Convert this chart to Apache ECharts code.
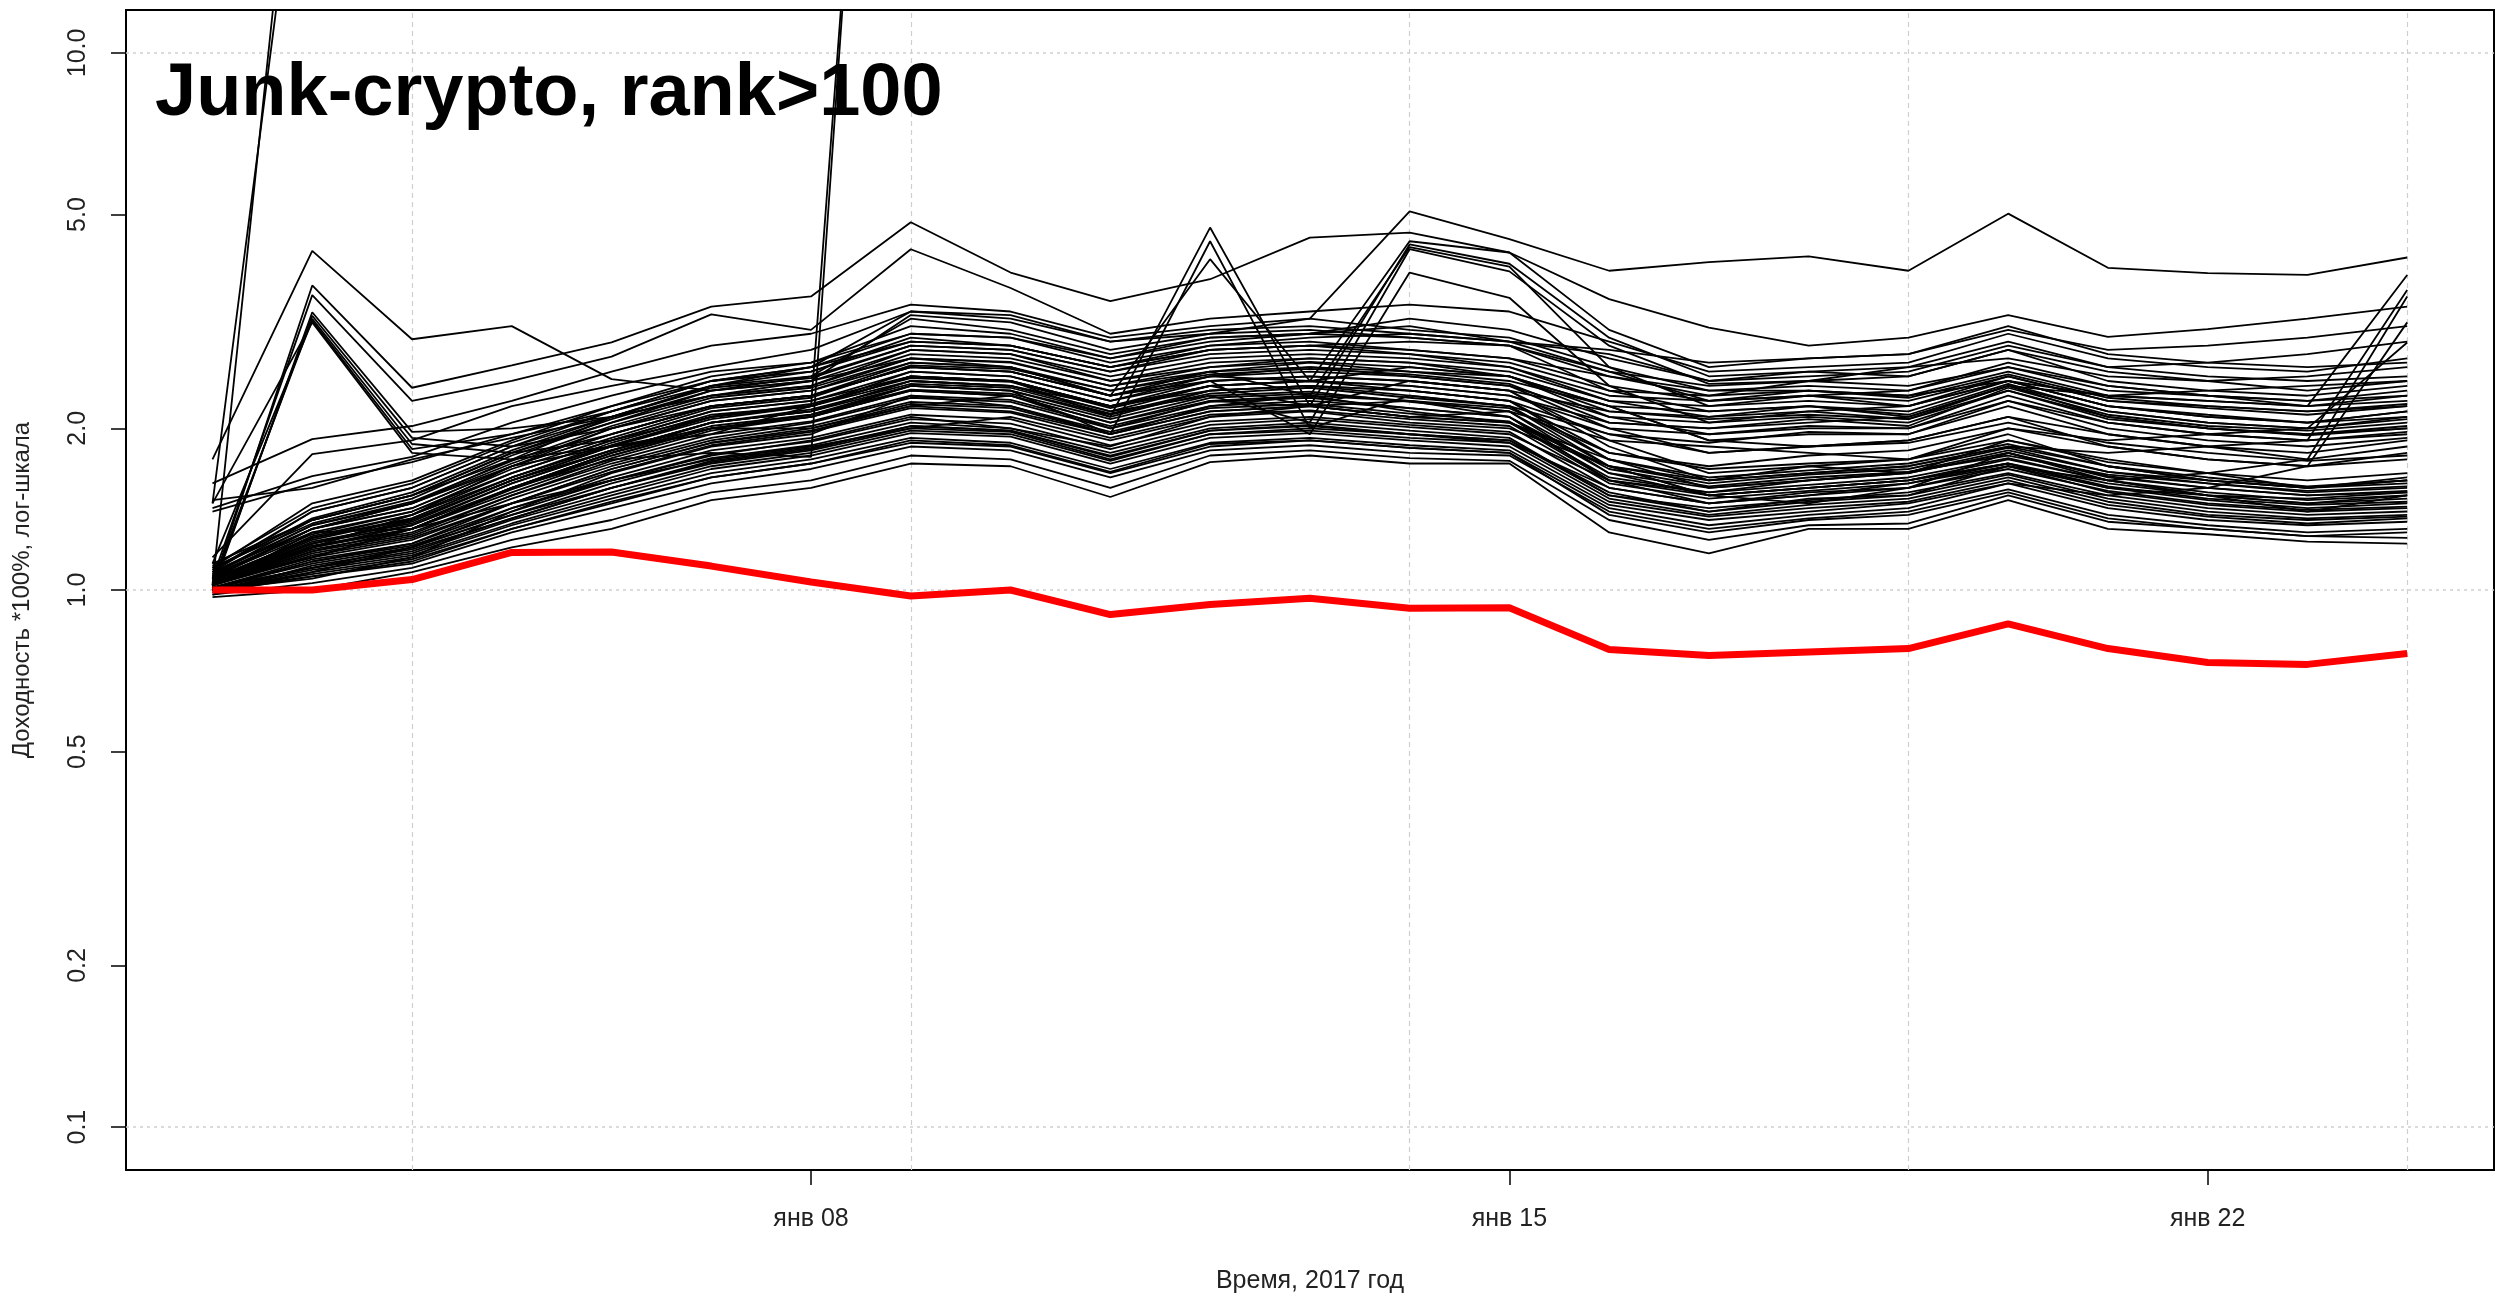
<!DOCTYPE html>
<html>
<head>
<meta charset="utf-8">
<title>Junk-crypto, rank>100</title>
<script src="https://cdn.jsdelivr.net/npm/echarts@6/dist/echarts.min.js"></script>
<style>
  html, body { margin: 0; padding: 0; background: #fff; }
  #chart { width: 2496px; height: 1297px; }
</style>
</head>
<body>
<div id="chart"></div>
<script>
// дни: 2 .. 24 января 2017
const days = ['02','03','04','05','06','07','08','09','10','11','12','13','14','15','16','17','18','19','20','21','22','23','24'];
const xTickIdx = [6, 13, 20];
const xTickLabels = ['янв 08', 'янв 15', 'янв 22'];
const yTicks = [0.1, 0.2, 0.5, 1, 2, 5, 10];
const yGrid = [0.1, 1, 10];
const xGridIdx = [2, 7, 12, 17, 22];

// индекс (красная линия)
const indexLine = [1.0, 1.0, 1.046, 1.175, 1.177, 1.108, 1.035, 0.975, 1.0, 0.90, 0.94, 0.965, 0.925, 0.927, 0.775, 0.755, 0.767, 0.778, 0.865, 0.778, 0.733, 0.727, 0.762];

// монеты, улетевшие за верх графика
const spikeLines = [
  [1.45, 40, 55, 60, 70, 75, 80, 95, 90, 85, 95, 100, 110, 105, 90, 85, 90, 88, 100, 92, 88, 85, 90],
  [1.02, 60, 70, 80, 85, 95, 100, 120, 115, 105, 110, 125, 130, 120, 105, 100, 105, 100, 115, 105, 100, 98, 102],
  [1.03, 1.15, 1.3, 1.55, 1.75, 1.8, 1.77, 800, 850, 760, 820, 900, 950, 880, 700, 650, 680, 690, 760, 700, 660, 640, 680],
  [1.06, 1.2, 1.38, 1.7, 1.85, 1.95, 2.2, 650, 700, 640, 690, 720, 760, 700, 600, 560, 580, 590, 640, 600, 570, 560, 580]
];

// заметные пики
const peakLines = [
  [1.75, 4.28, 2.93, 3.1, 2.47, 2.35, 2.45, 2.7, 2.6, 2.3, 2.5, 2.6, 2.5, 2.4, 2.0, 1.8, 1.85, 1.9, 2.1, 1.85, 1.75, 1.7, 1.8],
  [1.02, 3.69, 2.38, 2.62, 2.89, 3.37, 3.52, 4.84, 3.9, 3.45, 3.79, 4.53, 4.63, 4.25, 3.48, 3.08, 2.85, 2.95, 3.25, 2.96, 3.06, 3.2, 3.37],
  [1.05, 3.54, 2.25, 2.45, 2.72, 3.26, 3.05, 4.31, 3.65, 3.0, 3.2, 3.3, 3.4, 3.3, 2.9, 2.55, 2.6, 2.65, 3.0, 2.7, 2.6, 2.55, 2.7],
  [1.1, 1.35, 1.5, 1.75, 2.1, 2.4, 2.6, 3.3, 3.2, 2.9, 3.0, 3.2, 5.07, 4.5, 3.93, 4.08, 4.18, 3.93, 5.02, 3.98, 3.89, 3.86, 4.16],
  [1.04, 1.25, 1.35, 1.6, 1.85, 2.1, 2.2, 2.5, 2.45, 2.1, 4.73, 2.2, 2.45, 2.35, 1.85, 1.6, 1.65, 1.7, 1.85, 1.7, 1.6, 1.55, 1.6],
  [1.02, 1.2, 1.3, 1.55, 1.8, 2.05, 2.15, 2.4, 2.35, 1.95, 4.46, 2.0, 2.3, 2.2, 1.7, 1.5, 1.55, 1.6, 1.75, 1.6, 1.5, 1.45, 1.5],
  [1.06, 1.3, 1.42, 1.7, 2.0, 2.25, 2.35, 2.65, 2.6, 2.3, 4.13, 2.45, 2.6, 2.5, 2.1, 1.95, 2.0, 2.0, 2.25, 2.05, 1.95, 1.9, 1.95]
];

// пучок с пиком 3 января
const bundleLines = [
  [1.0, 3.29, 1.97, 2.0, 2.1, 2.3, 2.4, 2.8, 2.75, 2.45, 2.6, 2.7, 2.65, 2.5, 2.2, 1.9, 1.95, 1.95, 2.2, 1.95, 1.85, 1.8, 1.9],
  [1.01, 3.24, 1.92, 1.85, 2.0, 2.2, 2.3, 2.6, 2.55, 2.3, 2.45, 2.5, 2.45, 2.35, 1.9, 1.65, 1.7, 1.75, 1.95, 1.7, 1.6, 1.55, 1.6],
  [1.03, 3.2, 1.87, 1.8, 1.9, 2.1, 2.2, 2.45, 2.4, 2.2, 2.35, 2.4, 2.35, 2.25, 1.75, 1.55, 1.6, 1.65, 1.8, 1.62, 1.55, 1.5, 1.52],
  [1.12, 3.17, 1.83, 1.95, 2.15, 2.4, 2.5, 3.2, 3.05, 2.75, 2.95, 3.0, 2.95, 2.85, 2.35, 2.15, 2.2, 2.15, 2.45, 2.2, 2.1, 2.05, 2.1],
  [1.45, 3.15, 1.8, 1.75, 1.85, 2.0, 2.1, 2.35, 2.3, 2.05, 2.25, 2.3, 2.25, 2.15, 1.65, 1.5, 1.55, 1.6, 1.72, 1.58, 1.5, 1.45, 1.48]
];

// пучок с пиком 14 января
const midPeakLines = [
  [1.05, 1.3, 1.45, 1.7, 1.95, 2.2, 2.3, 2.6, 2.55, 2.3, 2.5, 2.45, 4.46, 4.25, 3.05, 2.6, 2.7, 2.75, 3.1, 2.75, 2.65, 2.6, 2.65],
  [1.07, 1.28, 1.4, 1.65, 1.9, 2.15, 2.25, 2.5, 2.45, 2.2, 2.4, 2.2, 4.4, 4.05, 2.95, 2.5, 2.55, 2.6, 2.9, 2.6, 2.5, 2.45, 2.5],
  [1.03, 1.22, 1.35, 1.6, 1.82, 2.05, 2.15, 2.45, 2.4, 2.15, 2.3, 2.05, 4.31, 3.92, 2.85, 2.42, 2.45, 2.5, 2.8, 2.45, 2.35, 2.3, 2.4],
  [1.08, 1.32, 1.45, 1.72, 2.0, 2.25, 2.35, 2.7, 2.65, 2.4, 2.55, 2.3, 4.35, 4.0, 2.6, 2.2, 2.3, 2.35, 2.65, 2.4, 2.3, 2.25, 2.35],
  [1.04, 1.26, 1.38, 1.62, 1.88, 2.12, 2.2, 2.55, 2.5, 2.25, 2.45, 1.95, 3.9, 3.5, 2.4, 2.05, 2.15, 2.2, 2.5, 2.25, 2.2, 2.15, 2.2]
];

// верхняя часть пучка
const upperLines = [
  [1.58, 1.91, 2.02, 2.25, 2.55, 2.85, 3.0, 3.4, 3.3, 2.95, 3.1, 3.2, 3.05, 2.95, 2.6, 2.35, 2.4, 2.35, 2.6, 2.35, 2.3, 2.2, 2.25],
  [1.42, 1.63, 1.77, 2.05, 2.3, 2.55, 2.65, 3.0, 2.95, 2.65, 2.85, 2.9, 2.8, 2.7, 2.4, 2.25, 2.3, 2.2, 2.45, 2.2, 2.1, 2.05, 2.15],
  [1.40, 1.58, 1.73, 1.95, 2.2, 2.45, 2.6, 2.9, 2.85, 2.6, 2.8, 2.85, 2.75, 2.6, 2.25, 2.1, 2.2, 2.1, 2.4, 2.15, 2.05, 2.0, 2.1],
  [1.47, 1.55, 1.75, 1.92, 2.1, 2.3, 2.45, 3.25, 3.15, 2.8, 3.0, 3.05, 2.95, 2.85, 2.5, 2.35, 2.35, 2.3, 2.45, 2.3, 2.35, 2.4, 2.45],
  [1.15, 1.79, 1.9, 2.2, 2.4, 2.6, 2.8, 3.3, 3.25, 2.9, 3.05, 3.1, 3.0, 2.9, 2.55, 2.4, 2.45, 2.4, 2.6, 2.4, 2.3, 2.25, 2.3],
  [1.1, 1.45, 1.6, 1.9, 2.2, 2.5, 2.65, 3.1, 3.0, 2.7, 2.95, 3.0, 3.1, 2.9, 2.75, 2.45, 2.55, 2.5, 2.8, 2.55, 2.45, 2.35, 2.45],
  [1.08, 1.4, 1.55, 1.85, 2.15, 2.45, 2.55, 2.95, 2.85, 2.6, 2.8, 2.85, 2.9, 2.85, 2.55, 2.25, 2.35, 2.3, 2.55, 2.3, 2.25, 2.2, 2.3],
  [1.05, 1.25, 1.38, 1.65, 1.9, 2.15, 2.25, 2.55, 2.5, 2.25, 2.5, 2.55, 2.5, 2.4, 2.1, 2.05, 2.1, 2.05, 2.35, 2.1, 2.0, 1.95, 2.0],
  [1.08, 1.3, 1.42, 1.7, 1.95, 2.2, 2.3, 2.6, 2.55, 2.3, 2.55, 2.6, 2.55, 2.45, 2.2, 2.15, 2.2, 2.12, 2.42, 2.15, 2.05, 2.0, 2.08],
  [1.03, 1.2, 1.32, 1.58, 1.82, 2.05, 2.15, 2.45, 2.4, 2.15, 2.4, 2.45, 2.4, 2.3, 2.0, 1.95, 2.02, 2.0, 2.3, 2.05, 1.95, 1.9, 1.97],
  [1.1, 1.33, 1.48, 1.78, 2.05, 2.3, 2.4, 2.75, 2.7, 2.45, 2.65, 2.7, 2.65, 2.55, 2.25, 2.2, 2.25, 2.2, 2.45, 2.2, 2.12, 2.05, 2.15],
  [1.02, 1.18, 1.3, 1.55, 1.78, 2.0, 2.1, 2.4, 2.35, 2.1, 2.35, 2.4, 2.35, 2.25, 1.95, 1.88, 1.97, 1.95, 2.25, 2.0, 1.9, 1.85, 1.92],
  [1.06, 1.27, 1.4, 1.68, 1.92, 2.18, 2.28, 2.62, 2.58, 2.35, 2.52, 2.58, 2.52, 2.42, 2.05, 2.0, 2.08, 2.02, 2.38, 2.12, 2.02, 1.98, 2.05],
  [1.04, 1.22, 1.34, 1.6, 1.85, 2.08, 2.2, 2.5, 2.45, 2.2, 2.45, 2.5, 2.45, 2.35, 2.15, 2.1, 2.15, 2.08, 2.4, 2.1, 2.0, 1.95, 2.02],
  [1.12, 1.35, 1.5, 1.8, 2.08, 2.35, 2.45, 2.8, 2.75, 2.5, 2.7, 2.75, 2.7, 2.6, 2.3, 2.25, 2.3, 2.25, 2.5, 2.25, 2.18, 2.12, 2.2],
  [1.07, 1.32, 1.46, 1.74, 2.02, 2.28, 2.38, 2.7, 2.66, 2.4, 2.6, 2.66, 2.6, 2.5, 2.15, 2.08, 2.12, 2.08, 2.35, 2.08, 2.0, 1.94, 2.0],
  [1.09, 1.36, 1.52, 1.82, 2.1, 2.38, 2.48, 2.85, 2.8, 2.55, 2.75, 2.8, 2.75, 2.65, 2.35, 2.3, 2.35, 2.28, 2.52, 2.28, 2.2, 2.15, 2.22],
  [1.06, 1.3, 1.45, 1.75, 1.95, 2.2, 2.3, 2.65, 2.6, 2.35, 2.55, 2.65, 2.55, 2.5, 2.2, 1.9, 1.85, 1.9, 2.1, 1.95, 1.85, 1.75, 1.85],
  [1.09, 1.4, 1.55, 1.85, 2.1, 2.4, 2.55, 2.9, 2.85, 2.6, 2.85, 2.95, 3.0, 2.9, 2.8, 2.65, 2.7, 2.75, 3.05, 2.8, 2.85, 2.95, 3.1],
  [1.11, 1.42, 1.58, 1.88, 2.15, 2.45, 2.6, 3.0, 2.95, 2.7, 2.9, 3.0, 3.2, 3.05, 2.7, 2.45, 2.5, 2.55, 2.85, 2.6, 2.65, 2.75, 2.9],
  [1.07, 1.35, 1.5, 1.8, 2.05, 2.35, 2.5, 2.85, 2.8, 2.55, 2.8, 2.85, 2.8, 2.7, 2.5, 2.3, 2.45, 2.6, 2.7, 2.5, 2.45, 2.5, 2.6]
];

// нижняя часть пучка
const lowerLines = [
  [0.97, 1.0, 1.08, 1.2, 1.3, 1.47, 1.55, 1.72, 1.7, 1.49, 1.73, 1.78, 1.72, 1.72, 1.28, 1.17, 1.3, 1.3, 1.47, 1.3, 1.27, 1.23, 1.22],
  [0.98, 1.03, 1.1, 1.24, 1.35, 1.52, 1.6, 1.78, 1.75, 1.55, 1.78, 1.82, 1.76, 1.74, 1.35, 1.24, 1.32, 1.33, 1.5, 1.34, 1.3, 1.26, 1.25],
  [0.99, 1.06, 1.12, 1.28, 1.42, 1.58, 1.68, 1.85, 1.82, 1.62, 1.82, 1.86, 1.8, 1.78, 1.4, 1.3, 1.36, 1.4, 1.54, 1.38, 1.32, 1.28, 1.3],
  [1.0, 1.08, 1.15, 1.32, 1.48, 1.65, 1.75, 1.92, 1.88, 1.68, 1.88, 1.92, 1.86, 1.82, 1.44, 1.35, 1.4, 1.45, 1.58, 1.42, 1.35, 1.32, 1.34],
  [1.0, 1.1, 1.17, 1.35, 1.52, 1.7, 1.8, 1.98, 1.95, 1.74, 1.95, 1.98, 1.92, 1.88, 1.48, 1.38, 1.44, 1.48, 1.62, 1.46, 1.38, 1.35, 1.37],
  [1.01, 1.12, 1.2, 1.38, 1.58, 1.76, 1.86, 2.05, 2.0, 1.8, 2.0, 2.05, 1.98, 1.92, 1.5, 1.42, 1.47, 1.52, 1.65, 1.5, 1.42, 1.38, 1.4],
  [1.01, 1.14, 1.22, 1.42, 1.62, 1.82, 1.92, 2.12, 2.08, 1.86, 2.06, 2.1, 2.03, 1.97, 1.55, 1.45, 1.5, 1.55, 1.68, 1.53, 1.45, 1.41, 1.43],
  [1.02, 1.15, 1.24, 1.45, 1.66, 1.86, 1.97, 2.18, 2.14, 1.92, 2.12, 2.16, 2.08, 2.02, 1.58, 1.48, 1.53, 1.58, 1.72, 1.56, 1.48, 1.44, 1.46],
  [1.02, 1.17, 1.26, 1.48, 1.7, 1.9, 2.02, 2.24, 2.2, 1.97, 2.18, 2.22, 2.13, 2.06, 1.62, 1.52, 1.57, 1.62, 1.76, 1.6, 1.52, 1.47, 1.5],
  [1.03, 1.19, 1.28, 1.5, 1.74, 1.95, 2.06, 2.3, 2.26, 2.02, 2.24, 2.28, 2.18, 2.1, 1.65, 1.55, 1.6, 1.65, 1.8, 1.63, 1.55, 1.5, 1.53],
  [1.03, 1.21, 1.3, 1.54, 1.78, 2.0, 2.12, 2.36, 2.32, 2.08, 2.3, 2.34, 2.24, 2.15, 1.7, 1.58, 1.64, 1.68, 1.84, 1.66, 1.58, 1.53, 1.56],
  [1.04, 1.23, 1.33, 1.58, 1.82, 2.05, 2.17, 2.42, 2.38, 2.13, 2.35, 2.4, 2.3, 2.2, 1.75, 1.62, 1.67, 1.72, 1.87, 1.7, 1.62, 1.56, 1.6],
  [1.0, 1.09, 1.16, 1.33, 1.5, 1.68, 1.78, 1.96, 1.93, 1.72, 1.92, 1.96, 1.9, 1.85, 1.46, 1.37, 1.42, 1.46, 1.6, 1.44, 1.37, 1.33, 1.36],
  [0.99, 1.11, 1.19, 1.36, 1.55, 1.73, 1.83, 2.02, 1.98, 1.77, 1.98, 2.02, 1.95, 1.9, 1.52, 1.4, 1.46, 1.5, 1.64, 1.48, 1.4, 1.36, 1.38],
  [1.01, 1.13, 1.21, 1.4, 1.6, 1.79, 1.89, 2.08, 2.04, 1.83, 2.03, 2.08, 2.01, 1.95, 1.6, 1.5, 1.55, 1.6, 1.72, 1.55, 1.47, 1.42, 1.45],
  [1.05, 1.25, 1.36, 1.62, 1.86, 2.1, 2.22, 2.48, 2.44, 2.18, 2.4, 2.45, 2.35, 2.25, 1.8, 1.68, 1.72, 1.75, 1.9, 1.73, 1.65, 1.6, 1.65],
  [1.0, 1.05, 1.15, 1.4, 1.65, 1.85, 1.95, 2.3, 2.2, 1.95, 2.2, 2.3, 2.15, 2.05, 1.75, 1.6, 1.7, 1.65, 1.9, 1.75, 1.65, 1.55, 1.62],
  [1.02, 1.28, 1.3, 1.45, 1.6, 1.75, 1.85, 2.0, 2.1, 1.9, 2.1, 2.2, 2.25, 2.1, 1.6, 1.45, 1.5, 1.58, 1.7, 1.55, 1.5, 1.48, 1.52],
  [1.04, 1.15, 1.3, 1.55, 1.8, 2.0, 2.0, 2.2, 2.3, 2.0, 2.25, 2.2, 2.1, 2.15, 1.9, 1.85, 1.8, 1.75, 2.0, 1.85, 1.75, 1.7, 1.75],
  [0.98, 1.08, 1.2, 1.42, 1.6, 1.78, 1.9, 2.1, 2.0, 1.85, 2.1, 2.15, 2.05, 2.0, 1.7, 1.5, 1.45, 1.55, 1.8, 1.6, 1.5, 1.4, 1.5],
  [1.0, 1.13, 1.22, 1.45, 1.68, 1.88, 2.0, 2.22, 2.18, 1.95, 2.15, 2.2, 2.1, 2.05, 1.6, 1.52, 1.6, 1.66, 1.78, 1.64, 1.58, 1.52, 1.55],
  [1.01, 1.1, 1.2, 1.38, 1.55, 1.72, 1.82, 2.0, 1.97, 1.75, 1.95, 2.0, 1.95, 1.88, 1.55, 1.45, 1.52, 1.55, 1.7, 1.52, 1.44, 1.4, 1.42],
  [1.05, 1.22, 1.32, 1.55, 1.8, 2.02, 2.12, 2.4, 2.35, 2.12, 2.32, 2.38, 2.28, 2.2, 1.95, 1.8, 1.85, 1.88, 2.05, 1.88, 1.8, 1.74, 1.78],
  [1.03, 1.18, 1.27, 1.5, 1.72, 1.92, 2.05, 2.28, 2.24, 2.0, 2.2, 2.25, 2.18, 2.1, 1.68, 1.56, 1.62, 1.66, 1.82, 1.66, 1.6, 1.55, 1.58],
  [1.0, 1.06, 1.13, 1.3, 1.45, 1.62, 1.72, 1.88, 1.85, 1.65, 1.85, 1.9, 1.84, 1.8, 1.38, 1.28, 1.35, 1.38, 1.52, 1.36, 1.3, 1.26, 1.28]
];

// резкий рост 24 января
const jumpLines = [
  [1.04, 1.24, 1.36, 1.62, 1.86, 2.1, 2.2, 2.5, 2.45, 2.2, 2.4, 2.45, 2.4, 2.3, 2.05, 2.0, 2.05, 2.1, 2.4, 2.3, 2.25, 2.2, 3.86],
  [1.02, 1.16, 1.25, 1.45, 1.68, 1.88, 1.98, 2.2, 2.15, 1.95, 2.15, 2.2, 2.1, 2.05, 1.7, 1.6, 1.65, 1.7, 1.85, 1.8, 1.85, 1.9, 3.62],
  [1.01, 1.1, 1.18, 1.36, 1.55, 1.74, 1.84, 2.02, 1.98, 1.78, 1.98, 2.03, 1.95, 1.9, 1.5, 1.4, 1.48, 1.5, 1.7, 1.6, 1.65, 1.75, 3.52],
  [1.0, 1.07, 1.14, 1.3, 1.46, 1.62, 1.72, 1.9, 1.86, 1.66, 1.87, 1.9, 1.84, 1.8, 1.42, 1.32, 1.38, 1.42, 1.58, 1.5, 1.55, 1.7, 3.15],
  [1.03, 1.2, 1.3, 1.52, 1.76, 1.98, 2.1, 2.35, 2.3, 2.05, 2.28, 2.32, 2.25, 2.18, 1.8, 1.7, 1.78, 1.82, 2.0, 1.9, 1.95, 2.0, 2.89]
];

const yMin = 0.0832;
const yMax = 12.02;
const lg = (v) => Math.log10(v);
const toPoints = (arr) => arr.map((v, i) => [i, lg(v)]);

const blackLines = [].concat(spikeLines, lowerLines, upperLines, bundleLines, midPeakLines, jumpLines, peakLines);

var myChart = echarts.init(document.getElementById('chart'));

const series = [];
// сетка
series.push({
    name: 'grid',
    type: 'line',
    data: [],
    z: 1,
    silent: true,
    markLine: {
        silent: true,
        z: 1,
        symbol: ['none', 'none'],
        label: { show: false },
        animation: false,
        data: yGrid.map(v => ({ yAxis: lg(v), lineStyle: { color: '#cfcfcf', type: [3, 4], width: 1.5 } }))
            .concat(xGridIdx.map(i => ({ xAxis: i, lineStyle: { color: '#cfcfcf', type: [5, 4], width: 1.2 } })))
    }
});
blackLines.forEach((arr, k) => {
    series.push({
        name: 'coin' + k,
        type: 'line',
        data: toPoints(arr),
        showSymbol: false,
        symbol: 'none',
        silent: true,
        clip: true,
        z: 2,
        lineStyle: { color: '#000', width: 1.8 }
    });
});
series.push({
    name: 'index',
    type: 'line',
    data: toPoints(indexLine),
    showSymbol: false,
    symbol: 'none',
    silent: true,
    z: 4,
    lineStyle: { color: '#ff0000', width: 7 }
});

var option = {
    animation: false,
    backgroundColor: '#fff',
    title: {
        text: 'Junk-crypto, rank>100',
        left: 150,
        top: 53,
        textStyle: {
            fontFamily: 'Liberation Sans',
            fontWeight: 'bold',
            fontSize: 74,
            color: '#000'
        }
    },
    grid: {
        left: 126,
        right: 2,
        top: 10,
        bottom: 127,
        containLabel: false,
        outerBoundsMode: 'none',
        show: true,
        borderColor: '#000',
        borderWidth: 2
    },
    xAxis: {
        type: 'value',
        min: -0.867,
        max: 22.87,
        name: 'Время, 2017 год',
        nameLocation: 'middle',
        nameGap: 99,
        nameTextStyle: { fontFamily: 'Liberation Sans', fontSize: 25, color: '#222' },
        axisLine: { show: true, onZero: false, lineStyle: { color: '#000', width: 2 } },
        axisTick: { show: true, length: 15, customValues: xTickIdx, lineStyle: { color: '#000', width: 1.5 } },
        axisLabel: {
            customValues: xTickIdx,
            margin: 37,
            fontFamily: 'Liberation Sans',
            fontSize: 25,
            color: '#222',
            formatter: function (v) {
                const k = xTickIdx.indexOf(Math.round(v));
                return k >= 0 ? xTickLabels[k] : 'янв ' + days[Math.round(v)];
            }
        },
        splitLine: { show: false }
    },
    yAxis: {
        type: 'value',
        min: lg(yMin),
        max: lg(yMax),
        name: 'Доходность *100%, лог-шкала',
        nameLocation: 'middle',
        nameGap: 92,
        nameTextStyle: { fontFamily: 'Liberation Sans', fontSize: 24, color: '#222' },
        axisLine: { show: true, onZero: false, lineStyle: { color: '#000', width: 2 } },
        axisTick: { show: true, length: 15, customValues: yTicks.map(lg), lineStyle: { color: '#000', width: 1.5 } },
        axisLabel: {
            customValues: yTicks.map(lg),
            rotate: 90,
            margin: 35,
            fontFamily: 'Liberation Sans',
            fontSize: 25,
            color: '#222',
            formatter: function (v) {
                return Math.pow(10, v).toFixed(1);
            }
        },
        splitLine: { show: false }
    },
    series: series
};
option && myChart.setOption(option);
window.addEventListener('resize', () => {
    myChart.resize()
})
</script>
</body>
</html>
